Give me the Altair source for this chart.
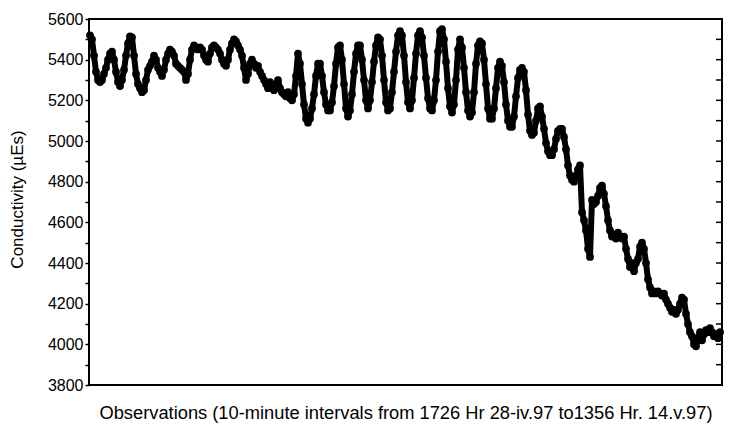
import altair as alt
import pandas as pd

cond_a = [5520, 5500, 5420, 5340, 5300, 5290, 5300, 5330, 5360, 5400,
          5430, 5440, 5400, 5340, 5290, 5270, 5300, 5350, 5420, 5480,
          5515, 5510, 5420, 5330, 5280, 5260, 5240, 5250, 5300, 5350,
          5370, 5390, 5420, 5400, 5360, 5340, 5320, 5350, 5400, 5430,
          5450, 5440, 5420, 5380, 5370, 5360, 5350, 5340, 5300, 5330,
          5400, 5450, 5470, 5460, 5450, 5460, 5450, 5420, 5400, 5390,
          5430, 5460, 5470, 5460, 5450, 5430, 5400, 5380, 5370, 5400,
          5450, 5480, 5500, 5490, 5470, 5450, 5420, 5360, 5300, 5330,
          5380, 5400, 5380, 5360, 5370, 5340, 5320, 5300, 5280, 5260,
          5290, 5270, 5250, 5280, 5300, 5260, 5240, 5230, 5220, 5240]
cond_b = [5210, 5200, 5230, 5320, 5430, 5380, 5280, 5180, 5110, 5090,
          5110, 5160, 5230, 5320, 5380, 5380, 5320, 5240, 5180, 5150,
          5150, 5190, 5270, 5380, 5460, 5470, 5400, 5280, 5160, 5120,
          5150, 5230, 5340, 5430, 5470, 5470, 5400, 5300, 5200, 5160,
          5200, 5290, 5390, 5470, 5510, 5500, 5420, 5300, 5190, 5150,
          5160, 5240, 5340, 5440, 5520, 5540, 5520, 5420, 5290, 5190,
          5160, 5200, 5310, 5430, 5520, 5540, 5510, 5420, 5310, 5210,
          5160, 5150, 5200, 5300, 5440, 5540, 5550, 5500, 5390, 5260,
          5170, 5140, 5180, 5300, 5450, 5500, 5460, 5360, 5240, 5150,
          5120, 5140, 5240, 5380, 5470, 5490, 5480, 5400, 5280, 5160]
cond_c = [5110, 5110, 5160, 5260, 5360, 5390, 5370, 5290, 5180, 5100,
          5070, 5070, 5120, 5220, 5310, 5350, 5360, 5340, 5250, 5130,
          5050, 5030, 5040, 5100, 5160, 5170, 5120, 5060, 4990, 4950,
          4930, 4930, 4960, 5010, 5050, 5060, 5060, 5020, 4960, 4880,
          4830, 4810, 4800, 4830, 4860, 4880, 4650, 4610, 4560, 4470,
          4430, 4710, 4690, 4700, 4730, 4770, 4780, 4740, 4680, 4610,
          4560, 4530, 4540, 4520, 4550, 4530, 4520, 4530, 4470, 4420,
          4380, 4400, 4360, 4400, 4420, 4480, 4500, 4470, 4400, 4320,
          4280, 4250, 4260, 4250, 4260, 4250, 4240, 4250, 4220, 4200,
          4180, 4160, 4170, 4150, 4170, 4200, 4230, 4220, 4150, 4100,
          4060, 4040, 4000, 3990, 4030, 4060, 4020, 4050, 4070, 4060,
          4080, 4060, 4040, 4050, 4030, 4060]

y_ticks = list(range(3800, 5601, 100))

x_title = "Observations (10-minute intervals from 1726 Hr 28-iv.97 to1356 Hr. 14.v.97)"
y_title = "Conductivity (\u00b5Es)"

values = cond_a + cond_b + cond_c
df = pd.DataFrame({"obs": list(range(len(values))), "cond": values})
ticks_df = pd.DataFrame({"cond": y_ticks})

FONT = "Liberation Sans"

x_scale = alt.Scale(domain=[-0.5, 316], nice=False, zero=False)
y_scale = alt.Scale(domain=[3800, 5600], nice=False, zero=False)

x_axis = alt.Axis(labels=False, ticks=False, domain=False, grid=False,
                  title=x_title, titleFont=FONT, titleFontSize=18.3,
                  titleFontWeight="normal", titleColor="black",
                  titleY=28, titleBaseline="middle")
y_axis = alt.Axis(values=y_ticks, format="d",
                  labelExpr="datum.value % 200 == 0 ? datum.label : ''",
                  labelFont=FONT, labelFontSize=16, labelColor="black",
                  labelPadding=2, tickSize=4, tickColor="black", tickWidth=1.5,
                  domain=False, grid=False,
                  title=y_title, titleFont=FONT, titleFontSize=17,
                  titleFontWeight="normal", titleColor="black",
                  titleAngle=270, titleX=-72, titleY=180,
                  titleAlign="center", titleBaseline="middle")

x_enc = alt.X("obs:Q", scale=x_scale, axis=x_axis)
y_enc = alt.Y("cond:Q", scale=y_scale, axis=y_axis)

line = alt.Chart(df).mark_line(color="black", strokeWidth=6, strokeJoin="round",
                               strokeCap="round").encode(x=x_enc, y=y_enc)
pts = alt.Chart(df).mark_circle(color="black", size=60, opacity=1).encode(x=x_enc, y=y_enc)
right_ticks = alt.Chart(ticks_df).mark_rule(color="black", strokeWidth=1.5).encode(
    y=y_enc,
    x=alt.value(627),
    x2=alt.value(633),
)

chart = alt.layer(line, pts, right_ticks).properties(
    width=633,
    height=366,
    padding={"left": 89, "top": 19, "right": 8, "bottom": 50},
    autosize=alt.AutoSizeParams(type="none"),
    background="white",
).configure_view(stroke="black", strokeWidth=2)

chart.save("out.html", embed_options={"renderer": "svg", "actions": False})
